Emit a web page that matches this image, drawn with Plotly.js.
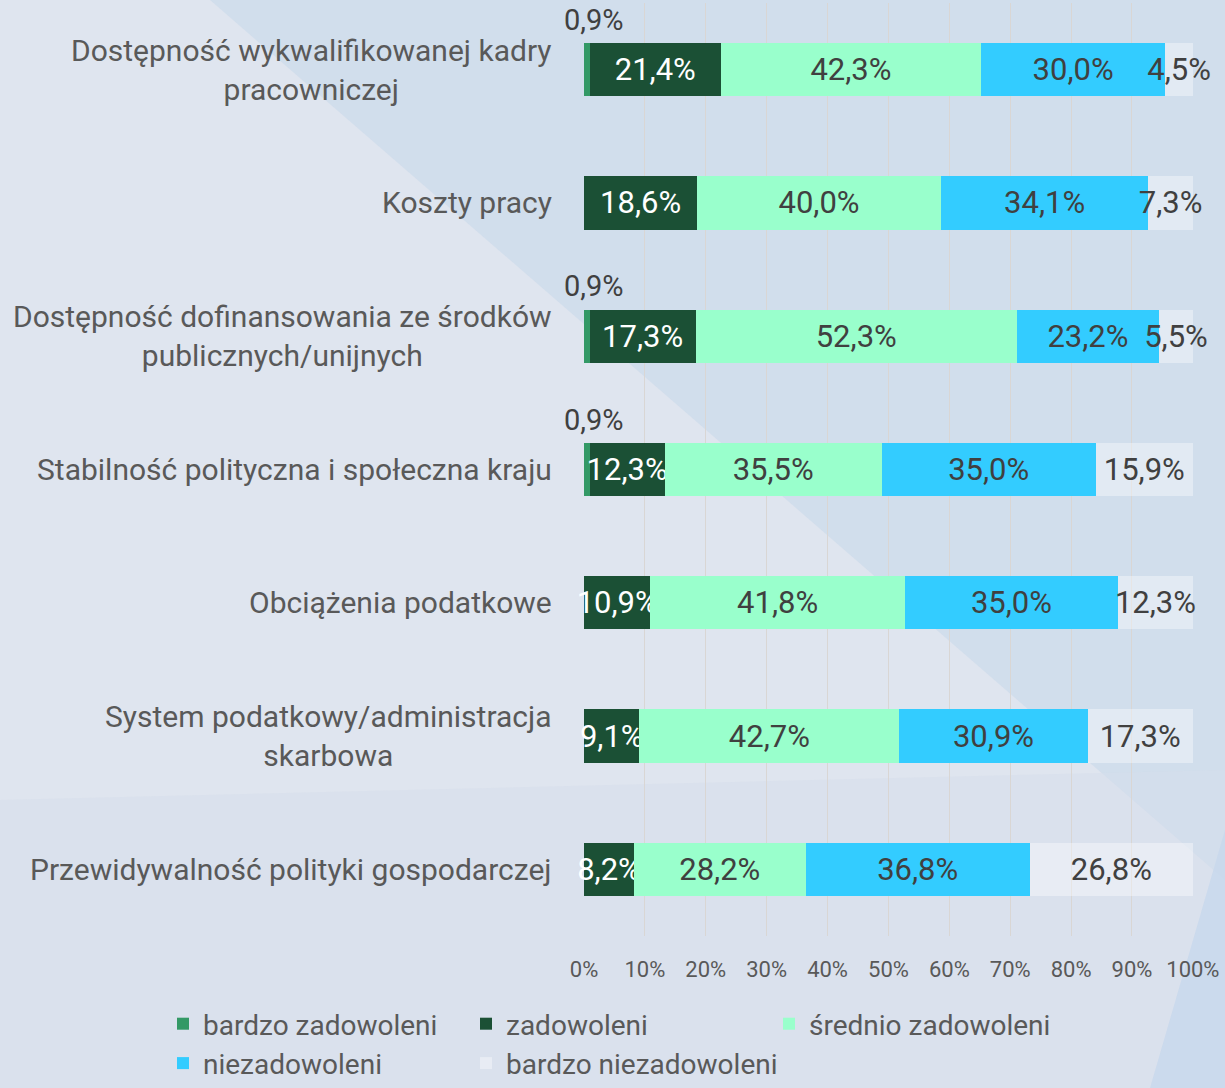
<!DOCTYPE html>
<html>
<head>
<meta charset="utf-8">
<script src="https://cdn.plot.ly/plotly-3.0.1.min.js"></script>
<style>
  body { margin: 0; background: #dfe5ef; }
  #chart { width: 1225px; height: 1088px; }
</style>
</head>
<body>
<div id="chart"></div>
<script>
var categories = [
    'Dostępność wykwalifikowanej kadry<br>pracowniczej',
    'Koszty pracy',
    'Dostępność dofinansowania ze środków<br>publicznych/unijnych',
    'Stabilność polityczna i społeczna kraju',
    'Obciążenia podatkowe',
    'System podatkowy/administracja<br>skarbowa',
    'Przewidywalność polityki gospodarczej'
];
var seriesNames = ['bardzo zadowoleni', 'zadowoleni', 'średnio zadowoleni', 'niezadowoleni', 'bardzo niezadowoleni'];
var bardzoZadowoleni = [0.9, null, 0.9, 0.9, null, null, null];
var zadowoleni = [21.4, 18.6, 17.3, 12.3, 10.9, 9.1, 8.2];
var srednioZadowoleni = [42.3, 40.0, 52.3, 35.5, 41.8, 42.7, 28.2];
var niezadowoleni = [30.0, 34.1, 23.2, 35.0, 35.0, 30.9, 36.8];
var bardzoNiezadowoleni = [4.5, 7.3, 5.5, 15.9, 12.3, 17.3, 26.8];
var xTicks = [0, 10, 20, 30, 40, 50, 60, 70, 80, 90, 100];

var FONT = 'Roboto, "Liberation Sans", sans-serif';
var colors = ['#339966', '#1b5035', '#99ffcc', '#33ccff', 'rgba(255,255,255,0.38)'];
var textColors = ['#404040', '#ffffff', '#404040', '#404040', '#404040'];

function fmt(v) {
    return v == null ? '' : v.toFixed(1).replace('.', ',') + '%';
}

var allSeries = [bardzoZadowoleni, zadowoleni, srednioZadowoleni, niezadowoleni, bardzoNiezadowoleni];
var traces = allSeries.map(function (vals, i) {
    return {
        type: 'bar',
        orientation: 'h',
        name: seriesNames[i],
        y: categories,
        x: vals,
        text: i === 0 ? null : vals.map(fmt),
        textposition: i === 0 ? 'none' : 'inside',
        insidetextanchor: 'middle',
        textangle: 0,
        constraintext: 'none',
        cliponaxis: false,
        textfont: { family: FONT, size: 31, color: textColors[i] },
        marker: { color: colors[i], line: { width: 0 } },
        hoverinfo: 'skip'
    };
});

// labels for the tiny first segment sit above the bar
var annotations = [];
for (var k = 0; k < categories.length; k++) {
    if (bardzoZadowoleni[k] != null) {
        annotations.push({
            x: 0, y: categories[k], xref: 'x', yref: 'y',
            text: fmt(bardzoZadowoleni[k]),
            showarrow: false, xanchor: 'center', yanchor: 'middle',
            xshift: 10, yshift: 50,
            font: { family: FONT, size: 29, color: '#404040' }
        });
    }
    // category labels, centred lines like the original
    annotations.push({
        x: 0, y: categories[k], xref: 'paper', yref: 'y',
        text: categories[k],
        showarrow: false, xanchor: 'right', yanchor: 'middle', align: 'center',
        xshift: -30,
        font: { family: FONT, size: 30, color: '#595959' }
    });
}

function px(x) { return (x - 584) / 609; }
function py(y) { return (936 - y) / 933; }

var layout = {
    width: 1225,
    height: 1088,
    margin: { l: 584, r: 32, t: 3, b: 152, autoexpand: false },
    paper_bgcolor: '#dfe5ef',
    plot_bgcolor: 'rgba(0,0,0,0)',
    barmode: 'stack',
    barnorm: 'percent',
    bargap: 0.6,
    font: { family: FONT, color: '#595959' },
    xaxis: {
        range: [0, 100.02],
        tickvals: xTicks,
        ticktext: xTicks.map(function (t) { return t + '%'; }),
        showgrid: true,
        gridcolor: '#d9d6d4',
        gridwidth: 1,
        zeroline: false,
        showline: false,
        ticks: '',
        tickfont: { family: FONT, size: 22, color: '#595959' },
        ticklabelstandoff: 18,
        fixedrange: true
    },
    yaxis: {
        autorange: 'reversed',
        showticklabels: false,
        showgrid: false,
        zeroline: false,
        fixedrange: true
    },
    legend: {
        orientation: 'h',
        x: px(163), xanchor: 'left',
        y: py(999), yanchor: 'top',
        entrywidth: 258,
        entrywidthmode: 'pixels',
        traceorder: 'normal',
        font: { family: FONT, size: 28, color: '#595959' },
        bgcolor: 'rgba(0,0,0,0)'
    },
    annotations: annotations,
    shapes: [
        {
            type: 'path', xref: 'paper', yref: 'paper', layer: 'below',
            path: 'M' + px(210) + ',' + py(0) + ' L' + px(1225) + ',' + py(0) +
                  ' L' + px(1225) + ',' + py(880) + ' Z',
            fillcolor: 'rgba(200,217,234,0.6)', line: { width: 0 }
        },
        {
            type: 'path', xref: 'paper', yref: 'paper', layer: 'below',
            path: 'M' + px(0) + ',' + py(800) + ' L' + px(1225) + ',' + py(770) +
                  ' L' + px(1225) + ',' + py(1088) + ' L' + px(0) + ',' + py(1088) + ' Z',
            fillcolor: 'rgba(214,222,236,0.5)', line: { width: 0 }
        },
        {
            type: 'path', xref: 'paper', yref: 'paper', layer: 'below',
            path: 'M' + px(1225) + ',' + py(830) + ' L' + px(1225) + ',' + py(1088) +
                  ' L' + px(1150) + ',' + py(1088) + ' Z',
            fillcolor: 'rgba(200,216,236,0.85)', line: { width: 0 }
        }
    ]
};

Plotly.newPlot('chart', traces, layout, { displayModeBar: false, staticPlot: true });
</script>
</body>
</html>
